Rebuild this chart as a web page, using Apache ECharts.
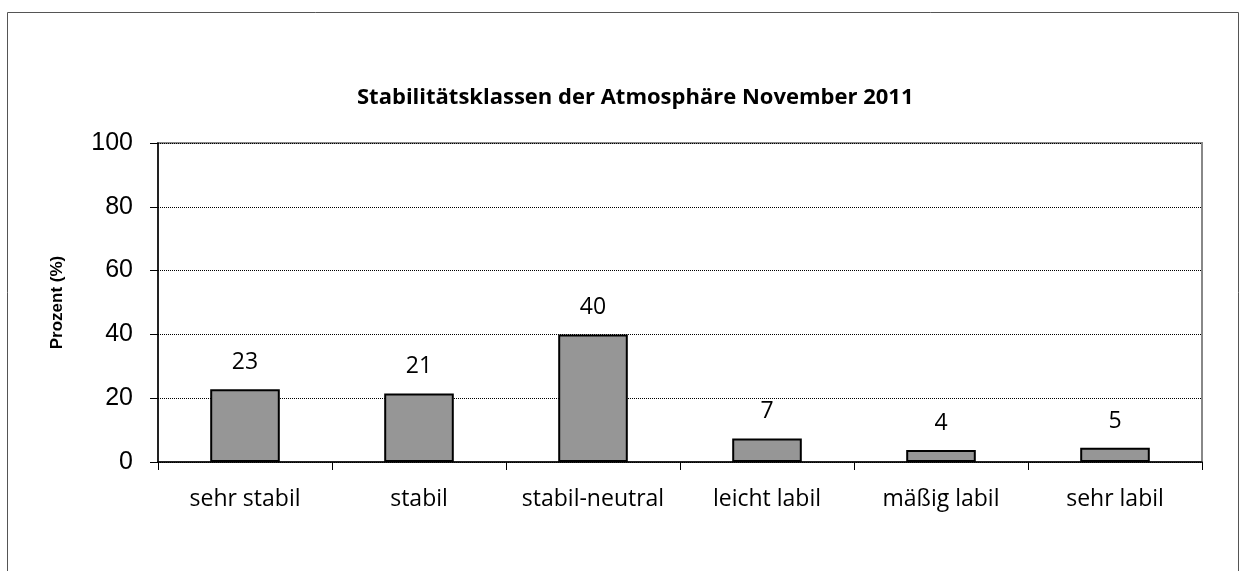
<!DOCTYPE html>
<html>
<head>
<meta charset="utf-8">
<script src="https://cdn.jsdelivr.net/npm/echarts@6/dist/echarts.min.js"></script>
<style>html,body{margin:0;padding:0;background:#fff}#c{width:1241px;height:571px}</style>
</head>
<body>
<div id="c"></div>
<script>
const titleText = 'Stabilitätsklassen der Atmosphäre November 2011';
const categories = ['sehr stabil', 'stabil', 'stabil-neutral', 'leicht labil', 'mäßig labil', 'sehr labil'];
const values = [22.8, 21.5, 40.0, 7.4, 3.8, 4.5];
const labels = ['23', '21', '40', '7', '4', '5'];
const yName = 'Prozent (%)';

const chart = echarts.init(document.getElementById('c'));
chart.setOption({
  animation: false,
  backgroundColor: '#fff',
  graphic: [{
    type: 'rect', left: 5, top: 10, shape: { width: 1231, height: 600 },
    style: { fill: 'none', stroke: '#555', lineWidth: 1 }, silent: true
  }],
  title: {
    text: titleText, left: 352, top: 82,
    textStyle: { fontFamily: 'Open Sans', fontWeight: 'bold', fontSize: 22, color: '#000' }
  },
  grid: { left: 158, right: 39, top: 143, bottom: 109, show: true, borderColor: '#888', borderWidth: 2, backgroundColor: 'transparent' },
  xAxis: {
    type: 'category', data: categories,
    axisLine: { lineStyle: { color: '#000', width: 1.5 } },
    axisTick: { show: true, length: 8, interval: 0, lineStyle: { color: '#000' } },
    axisLabel: { interval: 0, fontFamily: 'Open Sans', fontSize: 23, color: '#000', margin: 26 }
  },
  yAxis: {
    type: 'value', min: 0, max: 100, interval: 20,
    name: yName, nameLocation: 'middle', nameGap: 92, nameRotate: 90,
    nameTextStyle: { fontFamily: 'Arial', fontWeight: 'bold', fontSize: 17, color: '#000' },
    axisLine: { show: true, lineStyle: { color: '#000', width: 1.5 } },
    axisTick: { show: true, length: 8, lineStyle: { color: '#000' } },
    axisLabel: { fontFamily: 'Arial', fontSize: 25, color: '#000', margin: 25 },
    splitLine: { show: true, lineStyle: { color: '#000', type: 'dotted', width: 1 } }
  },
  series: [{
    type: 'bar', data: values, barWidth: '40%',
    itemStyle: { color: '#969696', borderColor: '#000', borderWidth: 2 },
    label: {
      show: true, position: 'top', distance: 15,
      fontFamily: 'Open Sans', fontSize: 23, color: '#000',
      formatter: p => labels[p.dataIndex]
    }
  }]
});
</script>
</body>
</html>
